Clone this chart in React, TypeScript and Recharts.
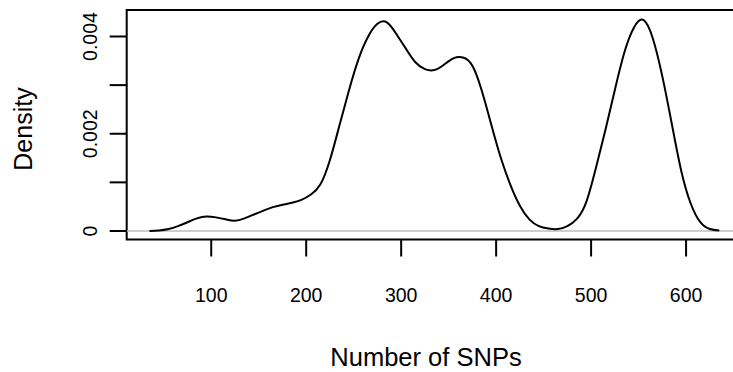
import { LineChart, Line, XAxis, YAxis, ReferenceLine, ReferenceArea } from "recharts"

// density estimate
const snps = [
  35, 45, 55, 65, 75, 85, 95, 105, 115, 125, 135, 145, 155, 165, 175, 185, 195, 205, 215, 225,
  235, 245, 255, 265, 275, 285, 295, 305, 315, 325, 335, 345, 355, 365, 375, 385, 395, 405, 415, 425,
  435, 445, 455, 465, 475, 485, 495, 505, 515, 525, 535, 545, 555, 565, 575, 585, 595, 605, 615, 625, 635,
]
const density = [
  0, 0.00001, 0.00004, 0.0001, 0.00018, 0.00026, 0.0003, 0.00028, 0.00024, 0.00021,
  0.00026, 0.00034, 0.00042, 0.00049, 0.00054, 0.00058, 0.00064, 0.00075, 0.00096, 0.00146,
  0.00217, 0.00289, 0.00353, 0.00399, 0.00426, 0.00429, 0.00405, 0.00375, 0.00347, 0.00333,
  0.00331, 0.00342, 0.00355, 0.00357, 0.0034, 0.00288, 0.00218, 0.0015, 0.00095, 0.00052,
  0.00024, 0.0001, 0.00005, 0.00004, 0.0001, 0.00025, 0.0006, 0.00129, 0.00207, 0.0029,
  0.00367, 0.00418, 0.00434, 0.00396, 0.00318, 0.0022, 0.00123, 0.00056, 0.00018, 0.00004, 0.00001,
]
const xTicks = [100, 200, 300, 400, 500, 600]
const yTicks = [0, 0.001, 0.002, 0.003, 0.004]
const yLabels: Record<string, string> = { "0": "0", "0.002": "0.002", "0.004": "0.004" }

const data = snps.map((s, i) => ({ snps: s, density: density[i] }))

const font = "'Liberation Sans', Arial, Helvetica, sans-serif"
const xDomain = [11, 661]
const yDomain = [-0.000175, 0.004545]

function XTick(props: any) {
  const { x, payload } = props
  return (
    <text x={x} y={301.5} textAnchor="middle" fontSize={19.5} fontFamily={font} fill="#000">
      {payload.value}
    </text>
  )
}

function YTick(props: any) {
  const { y, payload } = props
  const label = yLabels[String(payload.value)]
  if (!label) return <g />
  return (
    <text x={97} y={y} textAnchor="middle" fontSize={19.5} fontFamily={font} fill="#000"
      transform={`rotate(-90, 97, ${y})`}>
      {label}
    </text>
  )
}

export default function App() {
  return (
    <div style={{ position: "fixed", left: 0, top: 0, width: 733, height: 372, overflow: "hidden", background: "#fff" }}>
      <LineChart width={780} height={372} data={data} margin={{ top: 10, right: 36, bottom: 0, left: 0 }}>
        <XAxis
          dataKey="snps"
          type="number"
          domain={xDomain}
          ticks={xTicks}
          allowDataOverflow
          height={132.5}
          axisLine={false}
          tickSize={17}
          tickLine={{ stroke: "#000", strokeWidth: 2 }}
          tick={<XTick />}
          label={{
            content: () => (
              <text x={426} y={366} textAnchor="middle" fontSize={25.5} fontFamily={font} fill="#000">
                Number of SNPs
              </text>
            ),
          }}
        />
        <YAxis
          type="number"
          domain={yDomain}
          ticks={yTicks}
          allowDataOverflow
          width={126.7}
          axisLine={false}
          tickSize={17}
          tickLine={{ stroke: "#000", strokeWidth: 2 }}
          tick={<YTick />}
          label={{
            content: () => (
              <text x={32} y={129} textAnchor="middle" fontSize={25} fontFamily={font} fill="#000"
                transform="rotate(-90, 32, 129)">
                Density
              </text>
            ),
          }}
        />
        <ReferenceLine y={0} stroke="#bebebe" strokeWidth={1.5} />
        <ReferenceArea x1={xDomain[0]} x2={xDomain[1]} y1={yDomain[0]} y2={yDomain[1]}
          fill="none" stroke="#000" strokeWidth={2} fillOpacity={0} />
        <Line
          dataKey="density"
          type="natural"
          stroke="#000"
          strokeWidth={2}
          dot={false}
          isAnimationActive={false}
        />
      </LineChart>
    </div>
  )
}
